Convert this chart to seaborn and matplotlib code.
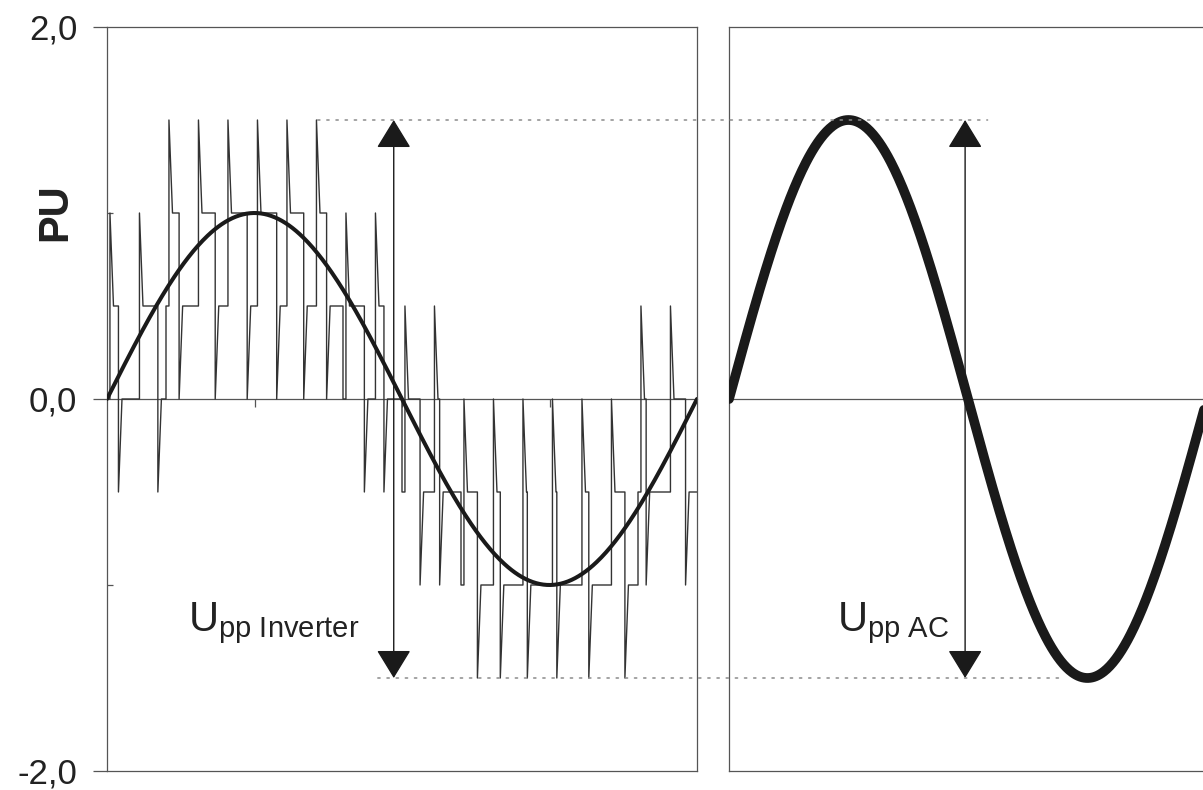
import numpy as np
import pandas as pd
import matplotlib
matplotlib.use("Agg")
import matplotlib.pyplot as plt
from matplotlib.patches import ConnectionPatch
import seaborn as sns

# ---------------- data ----------------
y_tick_values = [-2.0, 0.0, 2.0]
y_tick_labels = ["-2,0", "0,0", "2,0"]
y_minor_ticks = [-1.0, 1.0]
zero_line_ticks = [0.25, 0.5, 0.75]

sine_amplitude_inverter = 1.0   # fundamental of the inverter voltage (PU)
sine_amplitude_ac = 1.5         # AC side voltage (PU)
upp_level = 1.5                 # peak level marked by the arrows / dotted lines

# multilevel PWM inverter output: 20 carrier cells per period
# upper plateau level of each cell (PU) and share of the cell spent on it
cell_upper_level = [0.5, 0.5, 1.0, 1.0, 1.0, 1.0, 1.0, 1.0, 0.5, 0.5,
                    0.0, 0.0, -0.5, -0.5, -0.5, -0.5, -0.5, -0.5, 0.0, 0.0]
cell_upper_share = [0.30, 0.90, 0.40, 0.80, 0.95, 0.95, 0.80, 0.40, 0.90, 0.30,
                    0.70, 0.10, 0.60, 0.20, 0.05, 0.05, 0.20, 0.60, 0.10, 0.70]
level_step = 0.5

# ---------------- style ----------------
sns.set_theme(style="white")
plt.rcParams["font.family"] = ["Liberation Sans", "DejaVu Sans"]
plt.rcParams["mathtext.fontset"] = "custom"
plt.rcParams["mathtext.rm"] = "Liberation Sans"
plt.rcParams["mathtext.it"] = "Liberation Sans:italic"
plt.rcParams["mathtext.bf"] = "Liberation Sans:bold"

W, H = 1203, 790
fig = plt.figure(figsize=(W / 100, H / 100), dpi=100)
fig.patch.set_facecolor("white")
ax1 = fig.add_axes([107 / W, 19 / H, 590 / W, 744 / H])
ax2 = fig.add_axes([729 / W, 19 / H, 488 / W, 744 / H])

spine_col = "#555555"
wave_col = "#333333"
ink = "#1a1a1a"

# ---------------- inverter waveform ----------------
n_cells = len(cell_upper_level)
w = 1.0 / n_cells
a = 0.10 * w   # offset of the up spike inside a cell
s = 0.12 * w   # slant width of a spike
ts, us = [], []
for k, (hi, share) in enumerate(zip(cell_upper_level, cell_upper_share)):
    xs = k * w
    lo = hi - level_step
    up = hi + level_step
    dn = hi - 2 * level_step
    x1 = xs + a
    x2 = x1 + s + share * (w - 2 * a - 2 * s)
    ts += [xs, x1, x1, x1 + s, x2, x2, x2 + s, xs + w]
    us += [lo, lo, up, hi, hi, dn, lo, lo]
inv = pd.DataFrame({"t": ts, "u": us})

sns.lineplot(data=inv, x="t", y="u", estimator=None, sort=False, ax=ax1,
             color=wave_col, lw=1.0, zorder=2)

t1 = np.linspace(0, 1, 500)
sns.lineplot(x=t1, y=sine_amplitude_inverter * np.sin(2 * np.pi * t1),
             estimator=None, sort=False, ax=ax1, color=ink, lw=2.9, zorder=3)

t2 = np.linspace(0, 1.03, 500)
sns.lineplot(x=t2, y=sine_amplitude_ac * np.sin(2 * np.pi * t2),
             estimator=None, sort=False, ax=ax2, color=ink, lw=7.0, zorder=3,
             solid_capstyle="round")

# ---------------- axes ----------------
for ax in (ax1, ax2):
    ax.set_ylim(-2, 2)
    ax.set_xlabel("")
    ax.set_ylabel("")
    for sp in ax.spines.values():
        sp.set_color(spine_col)
        sp.set_linewidth(0.9)
ax1.set_xlim(0, 1)
ax2.set_xlim(0, 1.021)

ax1.set_xticks([])
ax1.set_yticks(y_tick_values, y_tick_labels)
ax1.set_yticks(y_minor_ticks, minor=True)
ax1.tick_params(axis="y", which="major", left=True, direction="out", length=10,
                width=0.9, color=spine_col, pad=11.5, labelsize=25, labelcolor="#222222")
ax1.tick_params(axis="y", which="minor", left=True, direction="in", length=4,
                width=0.9, color=spine_col)

sec = ax1.secondary_xaxis(0.5)
sec.set_xticks(zero_line_ticks)
sec.tick_params(axis="x", which="major", bottom=True, top=False, direction="out",
                length=6, width=0.9, color=spine_col, labelbottom=False, labeltop=False)
for sp in sec.spines.values():
    sp.set_color(spine_col)
    sp.set_linewidth(0.9)

ax2.set_xticks([])
ax2.set_yticks([])
ax2.spines["right"].set_visible(False)
ax2.axhline(0, color=spine_col, lw=0.9, zorder=1)

ax1.text(-0.087, 0.751, "PU", rotation=90, ha="center", va="center",
         transform=ax1.transAxes, fontsize=30, fontweight="bold", color="#222222")

# ---------------- annotations ----------------
arrow_kw = dict(arrowstyle="<|-|>,head_length=0.9,head_width=0.55",
                mutation_scale=20, lw=1.0, color=ink, shrinkA=0, shrinkB=0)
ax1.annotate("", xy=(0.486, upp_level), xytext=(0.486, -upp_level),
             arrowprops=arrow_kw, zorder=4)
ax2.annotate("", xy=(0.494, upp_level), xytext=(0.494, -upp_level),
             arrowprops=arrow_kw, zorder=4)

ax1.text(0.137, -1.247, r"$\mathrm{U_{pp\ Inverter}}$", fontsize=30,
         ha="left", va="baseline", color="#222222")
ax2.text(0.226, -1.247, r"$\mathrm{U_{pp\ AC}}$", fontsize=30,
         ha="left", va="baseline", color="#222222")

dot_kw = dict(color="#8a8a8a", lw=1.1, linestyle=(0, (1.5, 4.5)), zorder=1)
fig.add_artist(ConnectionPatch(xyA=(0.357, upp_level), coordsA=ax1.transData,
                               xyB=(0.541, upp_level), coordsB=ax2.transData, **dot_kw))
fig.add_artist(ConnectionPatch(xyA=(0.459, -upp_level), coordsA=ax1.transData,
                               xyB=(0.70, -upp_level), coordsB=ax2.transData, **dot_kw))

fig.savefig("out.png", dpi=100, facecolor="white")
